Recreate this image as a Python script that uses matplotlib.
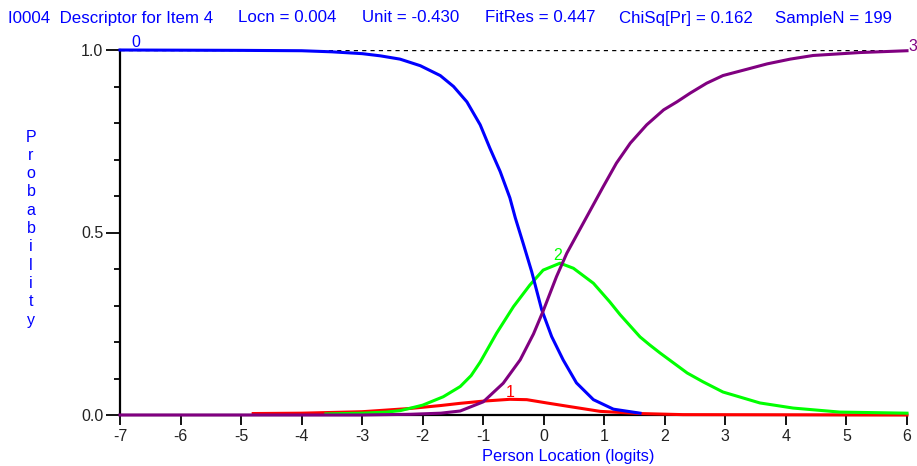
import matplotlib
matplotlib.use("Agg")
import matplotlib.pyplot as plt

# category probability curves
x0 = [-7, -5, -4, -3.5, -3.0, -2.7, -2.375, -2.04, -1.71, -1.49, -1.27, -1.05, -0.89, -0.72,
      -0.56, -0.47, -0.34, -0.2, -0.035, 0.13, 0.32, 0.54, 0.82, 1.15, 1.59]
p0 = [1.0, 0.999, 0.998, 0.995, 0.990, 0.984, 0.975, 0.957, 0.930, 0.900, 0.858, 0.795, 0.731, 0.667,
      0.595, 0.54, 0.47, 0.393, 0.289, 0.215, 0.151, 0.088, 0.042, 0.016, 0.005]

x1 = [-4.8, -4.0, -3.0, -2.2, -1.7, -1.38, -1.0, -0.56, -0.28, 0.05, 0.43, 0.93, 1.59, 2.3, 6.0]
p1 = [0.004, 0.005, 0.009, 0.018, 0.026, 0.032, 0.038, 0.043, 0.042, 0.033, 0.023, 0.01, 0.004, 0.001, 0.0]

x2 = [-3.6, -3.0, -2.6, -2.37, -2.0, -1.66, -1.38, -1.2, -1.05, -0.78, -0.5, -0.23, -0.01, 0.27,
      0.49, 0.82, 1.09, 1.26, 1.59, 1.75, 1.92, 2.37, 2.63, 2.96, 3.57, 4.12, 4.89, 6.0]
p2 = [0.003, 0.005, 0.008, 0.012, 0.027, 0.05, 0.078, 0.108, 0.145, 0.224, 0.297, 0.356, 0.397, 0.416,
      0.402, 0.361, 0.31, 0.275, 0.214, 0.192, 0.17, 0.115, 0.091, 0.063, 0.033, 0.019, 0.008, 0.005]

x3 = [-7, -3, -2.2, -1.7, -1.38, -1.0, -0.67, -0.39, -0.17, -0.01, 0.21, 0.38, 0.68, 0.98,
      1.2, 1.43, 1.7, 1.98, 2.2, 2.42, 2.69, 2.96, 3.35, 3.69, 4.07, 4.45, 5.22, 6.0]
p3 = [0.0, 0.0, 0.002, 0.005, 0.011, 0.036, 0.087, 0.151, 0.222, 0.285, 0.379, 0.443, 0.534, 0.625,
      0.69, 0.745, 0.795, 0.836, 0.858, 0.882, 0.909, 0.930, 0.947, 0.962, 0.975, 0.985, 0.993, 0.998]

header = ["I0004  Descriptor for Item 4", "Locn = 0.004", "Unit = -0.430",
          "FitRes = 0.447", "ChiSq[Pr] = 0.162", "SampleN = 199"]
header_px = [8, 238, 362, 485, 619, 775]

xticks = list(range(-7, 7))

plt.rcParams['font.family'] = ["Liberation Sans", "DejaVu Sans"]

W, H = 917, 466
fig = plt.figure(figsize=(W / 100, H / 100), dpi=100)
ax = fig.add_axes([120 / W, 1 - 415 / H, (907 - 120) / W, (415 - 50) / H])

ax.axhline(1.0, color="black", lw=1, ls=(0, (3, 3)), zorder=1)
ax.plot(x1, p1, color="#ff0000", lw=2.2, clip_on=False, zorder=3)
ax.plot(x2, p2, color="#00ff00", lw=2.2, clip_on=False, zorder=3)
ax.plot(x0, p0, color="#0000ff", lw=2.2, clip_on=False, zorder=3)
ax.plot(x3, p3, color="#800080", lw=2.2, clip_on=False, zorder=3)

ax.text(-6.82, 1.0, "0", color="#0000ff", fontsize=11.5, ha="left", va="bottom")
ax.text(-0.56, 0.062, "1", color="#ff0000", fontsize=11.5, ha="center", va="center")
ax.text(0.23, 0.437, "2", color="#00ff00", fontsize=11.5, ha="center", va="center")
ax.text(6.02, 0.99, "3", color="#800080", fontsize=11.5, ha="left", va="bottom")

ax.set_xlim(-7, 6)
ax.set_ylim(0, 1)
for s in ["top", "right"]:
    ax.spines[s].set_visible(False)
for s in ["left", "bottom"]:
    ax.spines[s].set_linewidth(1.6)
ax.set_xticks(xticks)
ax.set_xticklabels([str(v) for v in xticks])
ax.set_yticks([0, 0.5, 1.0])
ax.set_yticklabels(["0.0", "0.5", "1.0"])
ax.set_yticks([i / 10 for i in range(11)], minor=True)
ax.tick_params(axis="x", length=7, width=1.3, colors="black", labelcolor="#222222",
               labelsize=11.5, pad=3)
ax.tick_params(axis="y", which="major", length=10, width=1.3, labelcolor="#222222",
               labelsize=11.5, pad=2)
ax.tick_params(axis="y", which="minor", length=4, width=1.3)

ax.text((568 - 120) / (907 - 120), (415 - 456) / 365, "Person Location (logits)",
        transform=ax.transAxes, ha="center", va="center", color="#0000ff", fontsize=11.8)

for i, ch in enumerate("Probability"):
    fig.text(31 / W, 1 - (137 + i * 18.3) / H, ch, color="#0000ff", fontsize=11.5,
             ha="center", va="center")

for t, px in zip(header, header_px):
    fig.text(px / W, 1 - 18 / H, t, color="#0000ff", fontsize=12.2, ha="left", va="center")

fig.savefig("out.png", dpi=100)
